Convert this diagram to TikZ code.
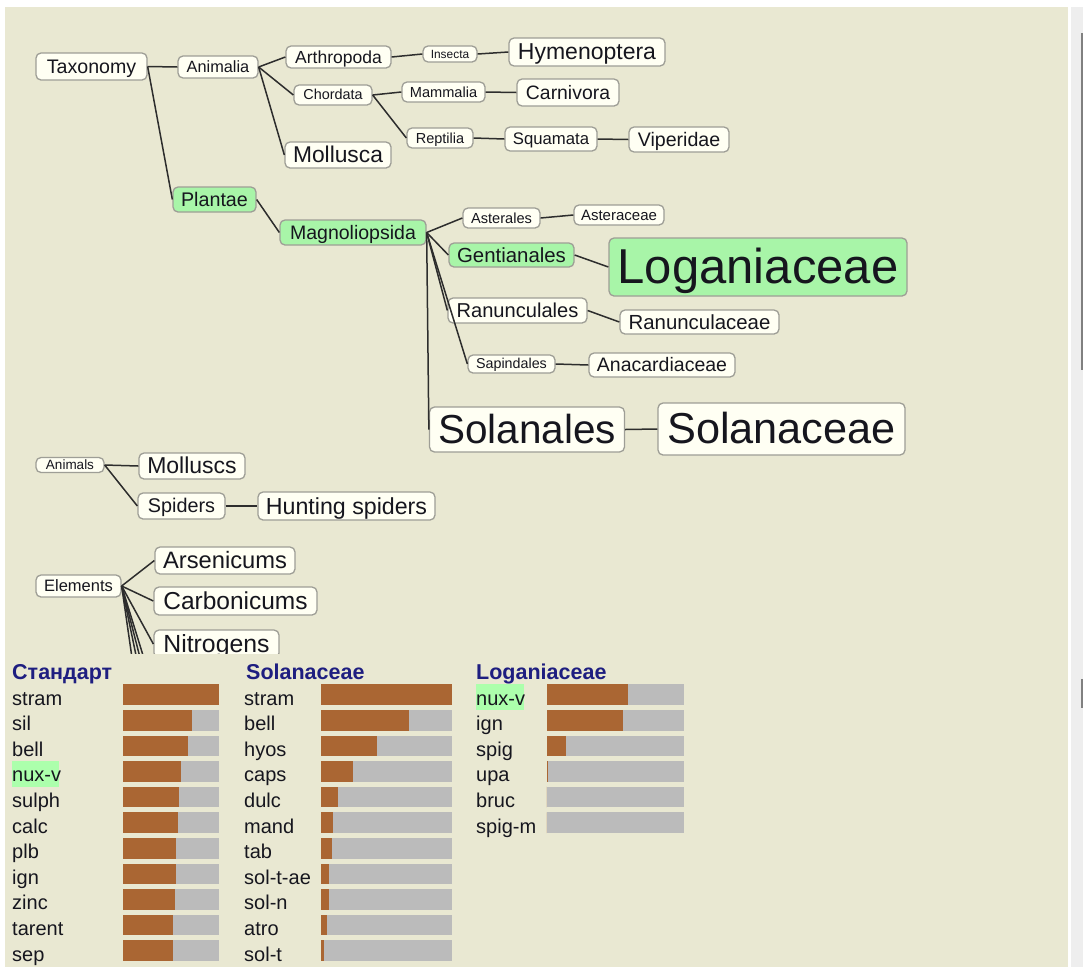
\documentclass[tikz,border=0pt]{standalone}
\usepackage{fontspec}
\setmainfont{Liberation Sans}
\definecolor{bgc}{RGB}{233,232,210}
\definecolor{nodefill}{RGB}{255,255,243}
\definecolor{nodeborder}{RGB}{158,158,150}
\definecolor{treegreen}{RGB}{168,245,168}
\definecolor{hlgreen}{RGB}{172,255,172}
\definecolor{edgec}{RGB}{45,45,45}
\definecolor{txt}{RGB}{22,22,30}
\definecolor{barbrown}{RGB}{170,102,51}
\definecolor{bargray}{RGB}{187,187,187}
\definecolor{navy}{RGB}{30,30,128}
\definecolor{stripc}{RGB}{238,238,238}
\definecolor{scrollc}{RGB}{128,128,128}
\newcommand\fsz[1]{\fontsize{#1}{#1}\selectfont}
\tikzset{
  nd/.style={draw=nodeborder, line width=1.3pt, rounded corners=5pt, fill=nodefill,
    inner sep=0pt, text=txt},
  gn/.style={nd, fill=treegreen},
  fs/.style={font=\fsz{#1}, text height={0.9*#1}, text depth={0.21*#1}},
  edge/.style={draw=edgec, line width=1.5pt},
  lab/.style={anchor=base west, inner sep=0pt, text=txt, font=\fsz{20}},
  hdr/.style={anchor=base west, inner sep=0pt, text=navy, font=\fsz{21.5}\bfseries},
}
\begin{document}
\begin{tikzpicture}[x=1pt,y=-1pt]
\useasboundingbox (0,0) rectangle (1083,967);
\fill[white] (0,0) rectangle (1083,967);
\fill[bgc] (5,7) rectangle (1068,967);
\fill[stripc] (1070.5,7) rectangle (1083,967);
\fill[scrollc] (1080.5,33) rectangle (1082.5,370);
\fill[scrollc] (1080.5,679) rectangle (1082.5,708);

% ---------------- tree ----------------
\begin{scope}
\clip (5,7) rectangle (1068,653);
\node[nd, minimum width=111pt, minimum height=27pt, fs=19.6] (tax) at (91.5,66.5) {Taxonomy};
\node[nd, minimum width=80pt, minimum height=22pt, fs=16.3] (anim) at (218,67) {Animalia};
\node[nd, minimum width=105pt, minimum height=22pt, fs=17.5] (arth) at (338.5,57) {Arthropoda};
\node[nd, minimum width=54pt, minimum height=16pt, fs=11.9] (insec) at (450,54) {Insecta};
\node[nd, minimum width=156pt, minimum height=28pt, fs=23] (hym) at (587,52) {Hymenoptera};
\node[nd, minimum width=78pt, minimum height=20pt, fs=14.4] (chord) at (333,95) {Chordata};
\node[nd, minimum width=83pt, minimum height=20pt, fs=14.6] (mamm) at (443.5,92) {Mammalia};
\node[nd, minimum width=102pt, minimum height=27pt, fs=19.4] (carn) at (568,92.5) {Carnivora};
\node[nd, minimum width=66pt, minimum height=20pt, fs=14.5] (rept) at (440,138) {Reptilia};
\node[nd, minimum width=92pt, minimum height=24pt, fs=16.7] (squam) at (551,139) {Squamata};
\node[nd, minimum width=100pt, minimum height=25pt, fs=19.6] (viper) at (679,139.5) {Viperidae};
\node[nd, minimum width=106pt, minimum height=26pt, fs=22.8] (moll) at (338,155) {Mollusca};
\node[gn, minimum width=83pt, minimum height=25pt, fs=19.7] (plant) at (214.5,199.5) {Plantae};
\node[gn, minimum width=146pt, minimum height=25pt, fs=19.5] (magn) at (353,232.5) {Magnoliopsida};
\node[nd, minimum width=77pt, minimum height=20pt, fs=14.6] (aster) at (501.5,218) {Asterales};
\node[nd, minimum width=90pt, minimum height=20pt, fs=15] (astc) at (619,215) {Asteraceae};
\node[gn, minimum width=125pt, minimum height=24pt, fs=20.4] (gent) at (511.5,255) {Gentianales};
\node[gn, minimum width=298pt, minimum height=58pt, fs=49] (logan) at (758,267) {Loganiaceae};
\node[nd, minimum width=139pt, minimum height=25pt, fs=20.1] (ranl) at (517.5,310.5) {Ranunculales};
\node[nd, minimum width=159pt, minimum height=24pt, fs=20.4] (ranc) at (699.5,322) {Ranunculaceae};
\node[nd, minimum width=87pt, minimum height=18pt, fs=14.3] (sapl) at (511.5,364) {Sapindales};
\node[nd, minimum width=146pt, minimum height=24pt, fs=19.5] (anac) at (662,365) {Anacardiaceae};
\node[nd, minimum width=195pt, minimum height=45pt, fs=40.5] (soll) at (527,429.5) {Solanales};
\node[nd, minimum width=247pt, minimum height=52pt, fs=43.3] (solc) at (781.5,429) {Solanaceae};
\node[nd, minimum width=68pt, minimum height=15pt, fs=13.5] (animals) at (70,465) {Animals};
\node[nd, minimum width=106pt, minimum height=26pt, fs=23] (molluscs) at (192,466) {Molluscs};
\node[nd, minimum width=87pt, minimum height=26pt, fs=19.8] (spiders) at (181.5,506) {Spiders};
\node[nd, minimum width=177pt, minimum height=28pt, fs=23.2] (hunt) at (346.5,506) {Hunting spiders};
\node[nd, minimum width=140pt, minimum height=27pt, fs=23.7] (arsen) at (225,560.5) {Arsenicums};
\node[nd, minimum width=85pt, minimum height=22pt, fs=16.5] (elem) at (78.5,586) {Elements};
\node[nd, minimum width=163pt, minimum height=28pt, fs=24.5] (carb) at (235.5,601) {Carbonicums};
\node[nd, minimum width=125pt, minimum height=28pt, fs=24.8] (nitro) at (216.5,644) {Nitrogens};
\coordinate (e1) at (154,691);
\coordinate (e2) at (154,712);
\coordinate (e3) at (154,742);
\coordinate (e4) at (154,810);

\draw[edge] (tax.east) -- (anim.west);
\draw[edge] (tax.east) -- (plant.west);
\draw[edge] (anim.east) -- (arth.west);
\draw[edge] (anim.east) -- (chord.west);
\draw[edge] (anim.east) -- (moll.west);
\draw[edge] (arth.east) -- (insec.west);
\draw[edge] (insec.east) -- (hym.west);
\draw[edge] (chord.east) -- (mamm.west);
\draw[edge] (chord.east) -- (rept.west);
\draw[edge] (mamm.east) -- (carn.west);
\draw[edge] (rept.east) -- (squam.west);
\draw[edge] (squam.east) -- (viper.west);
\draw[edge] (plant.east) -- (magn.west);
\draw[edge] (magn.east) -- (aster.west);
\draw[edge] (magn.east) -- (gent.west);
\draw[edge] (magn.east) -- (ranl.west);
\draw[edge] (magn.east) -- (sapl.west);
\draw[edge] (magn.east) -- (soll.west);
\draw[edge] (aster.east) -- (astc.west);
\draw[edge] (gent.east) -- (logan.west);
\draw[edge] (ranl.east) -- (ranc.west);
\draw[edge] (sapl.east) -- (anac.west);
\draw[edge] (soll.east) -- (solc.west);
\draw[edge] (animals.east) -- (molluscs.west);
\draw[edge] (animals.east) -- (spiders.west);
\draw[edge] (spiders.east) -- (hunt.west);
\draw[edge] (elem.east) -- (arsen.west);
\draw[edge] (elem.east) -- (carb.west);
\draw[edge] (elem.east) -- (nitro.west);
\draw[edge] (elem.east) -- (e1);
\draw[edge] (elem.east) -- (e2);
\draw[edge] (elem.east) -- (e3);
\draw[edge] (elem.east) -- (e4);
\end{scope}

% ---------------- tables ----------------
\fill[hlgreen] (11.7,761.1) rectangle (59.3,786.7);
\fill[hlgreen] (476,684.3) rectangle (524,710);

\node[hdr] (h1) at (12,679) {Стандарт};
\node[hdr] (h2) at (246,679) {Solanaceae};
\node[hdr] (h3) at (476,679) {Loganiaceae};

\foreach \e/\t [count=\i from 0] in {219.3/stram,192.3/sil,187.7/bell,181.3/nux-v,179.3/sulph,178.3/calc,176.3/plb,176.3/ign,174.7/zinc,173/tarent,173/sep}{
  \pgfmathsetmacro\yt{684.3+25.6*\i}
  \pgfmathsetmacro\yb{\yt+20.7}
  \fill[bargray] (123.3,\yt) rectangle (219.3,\yb);
  \fill[barbrown] (123.3,\yt) rectangle (\e,\yb);
  \node[lab] (std\i) at (12,\yb) {\t};
}
\foreach \e/\t [count=\i from 0] in {451.7/stram,408.7/bell,376.7/hyos,352.7/caps,338.3/dulc,333.3/mand,331.7/tab,328.7/sol-t-ae,328.7/sol-n,327/atro,324/sol-t}{
  \pgfmathsetmacro\yt{684.3+25.6*\i}
  \pgfmathsetmacro\yb{\yt+20.7}
  \fill[bargray] (320.7,\yt) rectangle (451.7,\yb);
  \fill[barbrown] (320.7,\yt) rectangle (\e,\yb);
  \node[lab] (sol\i) at (244,\yb) {\t};
}
\foreach \e/\t [count=\i from 0] in {628.3/nux-v,623.3/ign,565.7/spig,548.3/upa,546.7/bruc,546.7/spig-m}{
  \pgfmathsetmacro\yt{684.3+25.6*\i}
  \pgfmathsetmacro\yb{\yt+20.7}
  \fill[bargray] (546.7,\yt) rectangle (684.3,\yb);
  \fill[barbrown] (546.7,\yt) rectangle (\e,\yb);
  \node[lab] (log\i) at (476,\yb) {\t};
}
\end{tikzpicture}
\end{document}
